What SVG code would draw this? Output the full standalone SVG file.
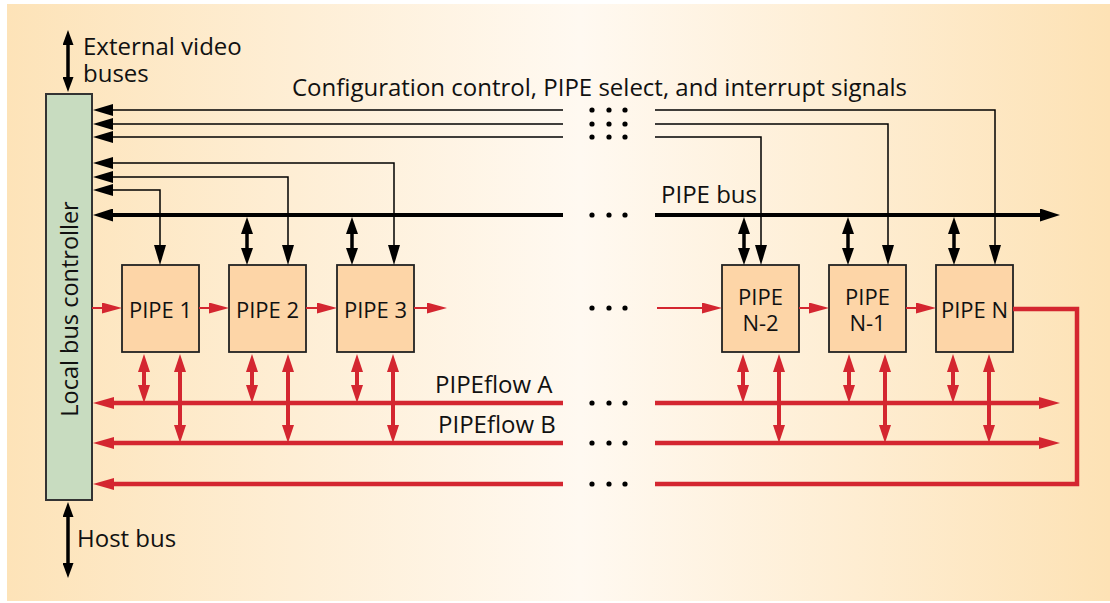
<svg xmlns="http://www.w3.org/2000/svg" width="1110" height="603" viewBox="0 0 1110 603">
  <defs>
    <linearGradient id="bg" x1="0" y1="0" x2="1" y2="0">
      <stop offset="0" stop-color="#fde3b8"/>
      <stop offset="0.52" stop-color="#fff9f1"/>
      <stop offset="1" stop-color="#fde2b5"/>
    </linearGradient>
    <!-- arrowheads: tip at x=L, reference point 1px inside the base -->
    <marker id="ah-thin" markerUnits="userSpaceOnUse" markerWidth="20" markerHeight="12" viewBox="0 0 20 12" refX="1" refY="6" orient="auto-start-reverse">
      <path d="M0,0 L20,6 L0,12 Z" fill="#000"/>
    </marker>
    <marker id="ah-bus" markerUnits="userSpaceOnUse" markerWidth="20" markerHeight="13" viewBox="0 0 20 13" refX="1" refY="6.5" orient="auto-start-reverse">
      <path d="M0,0 L20,6.5 L0,13 Z" fill="#000"/>
    </marker>
    <marker id="ah-dbl" markerUnits="userSpaceOnUse" markerWidth="17" markerHeight="12" viewBox="0 0 17 12" refX="1" refY="6" orient="auto-start-reverse">
      <path d="M0,0 L17,6 L0,12 Z" fill="#000"/>
    </marker>
    <marker id="ah-ext" markerUnits="userSpaceOnUse" markerWidth="15" markerHeight="11" viewBox="0 0 15 11" refX="1" refY="5.5" orient="auto-start-reverse">
      <path d="M0,0 L15,5.5 L0,11 Z" fill="#000"/>
    </marker>
    <marker id="ah-red" markerUnits="userSpaceOnUse" markerWidth="20" markerHeight="11" viewBox="0 0 20 11" refX="1" refY="5.5" orient="auto-start-reverse">
      <path d="M0,0 L20,5.5 L0,11 Z" fill="#d42630"/>
    </marker>
    <marker id="ah-redthick" markerUnits="userSpaceOnUse" markerWidth="21" markerHeight="12" viewBox="0 0 21 12" refX="1" refY="6" orient="auto-start-reverse">
      <path d="M0,0 L21,6 L0,12 Z" fill="#d42630"/>
    </marker>
    <marker id="ah-reddbl" markerUnits="userSpaceOnUse" markerWidth="18" markerHeight="12" viewBox="0 0 18 12" refX="1" refY="6" orient="auto-start-reverse">
      <path d="M0,0 L18,6 L0,12 Z" fill="#d42630"/>
    </marker>
  </defs>
  <style>
    text { font-family: "Open Sans", "Liberation Sans", sans-serif; font-size: 24px; fill: #111; }
    .pipe rect { fill: #fdd5a7; stroke: #222; stroke-width: 1.8; }
    .pipe text { text-anchor: middle; font-size: 22px; }
    .ctl { fill: none; stroke: #000; stroke-width: 1.5; }
    .bus { fill: none; stroke: #000; stroke-width: 4; }
    .dbl { fill: none; stroke: #000; stroke-width: 3.5; marker-start: url(#ah-dbl); marker-end: url(#ah-dbl); }
    .ext { fill: none; stroke: #000; stroke-width: 3.5; marker-start: url(#ah-ext); marker-end: url(#ah-ext); }
    .flow { fill: none; stroke: #d42630; stroke-width: 2; marker-end: url(#ah-red); }
    .rbus { fill: none; stroke: #d42630; stroke-width: 4.5; }
    .rdbl { fill: none; stroke: #d42630; stroke-width: 4; marker-start: url(#ah-reddbl); marker-end: url(#ah-reddbl); }
    .dots circle { fill: #000; }
  </style>

  <rect x="7" y="4" width="1103" height="597" fill="url(#bg)"/>

  <!-- local bus controller -->
  <g id="controller">
    <rect x="46" y="94" width="46" height="406" fill="#c8dcc0" stroke="#333" stroke-width="2"/>
    <text transform="translate(77.5,309) rotate(-90)" text-anchor="middle" style="font-size:23.5px">Local bus controller</text>
  </g>

  <g id="external-video">
    <path class="ext" d="M68,44 V78"/>
    <text x="83" y="55">External video</text>
    <text x="83" y="82">buses</text>
  </g>

  <g id="host-bus">
    <path class="ext" d="M68,516 V564"/>
    <text x="77" y="547">Host bus</text>
  </g>

  <!-- processing elements -->
  <g id="pipe1" class="pipe"><rect x="122" y="265" width="77" height="87"/><text x="160.5" y="318">PIPE 1</text></g>
  <g id="pipe2" class="pipe"><rect x="229" y="265" width="77" height="87"/><text x="267.5" y="318">PIPE 2</text></g>
  <g id="pipe3" class="pipe"><rect x="337" y="265" width="77" height="87"/><text x="375.5" y="318">PIPE 3</text></g>
  <g id="pipeN-2" class="pipe"><rect x="722" y="265" width="77" height="87"/><text><tspan x="760.5" y="305">PIPE</tspan><tspan x="760.5" y="331">N-2</tspan></text></g>
  <g id="pipeN-1" class="pipe"><rect x="829" y="265" width="77" height="87"/><text><tspan x="867.5" y="305">PIPE</tspan><tspan x="867.5" y="331">N-1</tspan></text></g>
  <g id="pipeN" class="pipe"><rect x="936" y="265" width="77" height="87"/><text x="974.5" y="318">PIPE N</text></g>

  <g id="connectors">
    <!-- configuration / select / interrupt lines -->
    <path class="ctl" d="M563,110 H112" marker-end="url(#ah-thin)"/>
    <path class="ctl" d="M563,124 H112" marker-end="url(#ah-thin)"/>
    <path class="ctl" d="M563,137 H112" marker-end="url(#ah-thin)"/>
    <path class="ctl" d="M655,110 H995 V246" marker-end="url(#ah-thin)"/>
    <path class="ctl" d="M655,124 H888 V246" marker-end="url(#ah-thin)"/>
    <path class="ctl" d="M655,137 H761 V246" marker-end="url(#ah-thin)"/>
    <path class="ctl" d="M112,163 H394 V246" marker-start="url(#ah-thin)" marker-end="url(#ah-thin)"/>
    <path class="ctl" d="M112,177 H288 V246" marker-start="url(#ah-thin)" marker-end="url(#ah-thin)"/>
    <path class="ctl" d="M112,190 H160 V246" marker-start="url(#ah-thin)" marker-end="url(#ah-thin)"/>

    <!-- PIPE bus -->
    <path class="bus" d="M563,215 H112" marker-end="url(#ah-bus)"/>
    <path class="bus" d="M655,215 H1041" marker-end="url(#ah-bus)"/>
    <path class="dbl" d="M247,233 V249"/>
    <path class="dbl" d="M352,233 V249"/>
    <path class="dbl" d="M744,233 V249"/>
    <path class="dbl" d="M848,233 V249"/>
    <path class="dbl" d="M954,233 V249"/>

    <!-- pipeline flow -->
    <path class="flow" d="M92,308 H103"/>
    <path class="flow" d="M199,308 H210"/>
    <path class="flow" d="M306,308 H318"/>
    <path class="flow" d="M414,308 H428"/>
    <path class="flow" d="M657,308 H703"/>
    <path class="flow" d="M799,308 H810"/>
    <path class="flow" d="M906,308 H917"/>

    <!-- PIPEflow A / B and return path -->
    <path class="rbus" d="M563,403 H113" marker-end="url(#ah-redthick)"/>
    <path class="rbus" d="M655,403 H1040" marker-end="url(#ah-redthick)"/>
    <path class="rbus" d="M563,443 H113" marker-end="url(#ah-redthick)"/>
    <path class="rbus" d="M655,443 H1040" marker-end="url(#ah-redthick)"/>
    <path class="rbus" d="M563,484 H113" marker-end="url(#ah-redthick)"/>
    <path class="rbus" d="M1013,309 H1077 V484 H655"/>

    <path class="rdbl" d="M144,371 V386"/>
    <path class="rdbl" d="M252,371 V386"/>
    <path class="rdbl" d="M357,371 V386"/>
    <path class="rdbl" d="M743,371 V386"/>
    <path class="rdbl" d="M849,371 V386"/>
    <path class="rdbl" d="M953,371 V386"/>
    <path class="rdbl" d="M180,371 V426"/>
    <path class="rdbl" d="M288,371 V426"/>
    <path class="rdbl" d="M393,371 V426"/>
    <path class="rdbl" d="M779,371 V426"/>
    <path class="rdbl" d="M885,371 V426"/>
    <path class="rdbl" d="M989,371 V426"/>

    <!-- ellipses marking omitted stages -->
    <g class="dots">
      <circle cx="592" cy="110" r="2.6"/><circle cx="609" cy="110" r="2.6"/><circle cx="625" cy="110" r="2.6"/>
      <circle cx="592" cy="124" r="2.6"/><circle cx="609" cy="124" r="2.6"/><circle cx="625" cy="124" r="2.6"/>
      <circle cx="592" cy="137" r="2.6"/><circle cx="609" cy="137" r="2.6"/><circle cx="625" cy="137" r="2.6"/>
      <circle cx="592" cy="215" r="2.6"/><circle cx="609" cy="215" r="2.6"/><circle cx="625" cy="215" r="2.6"/>
      <circle cx="592" cy="308" r="2.6"/><circle cx="609" cy="308" r="2.6"/><circle cx="625" cy="308" r="2.6"/>
      <circle cx="592" cy="403" r="2.6"/><circle cx="609" cy="403" r="2.6"/><circle cx="625" cy="403" r="2.6"/>
      <circle cx="592" cy="443" r="2.6"/><circle cx="609" cy="443" r="2.6"/><circle cx="625" cy="443" r="2.6"/>
      <circle cx="592" cy="484" r="2.6"/><circle cx="609" cy="484" r="2.6"/><circle cx="625" cy="484" r="2.6"/>
    </g>
  </g>

  <!-- bus labels -->
  <text x="292" y="96">Configuration control, PIPE select, and interrupt signals</text>
  <text x="661" y="203">PIPE bus</text>
  <text x="435" y="393">PIPEflow A</text>
  <text x="438" y="433">PIPEflow B</text>
</svg>
